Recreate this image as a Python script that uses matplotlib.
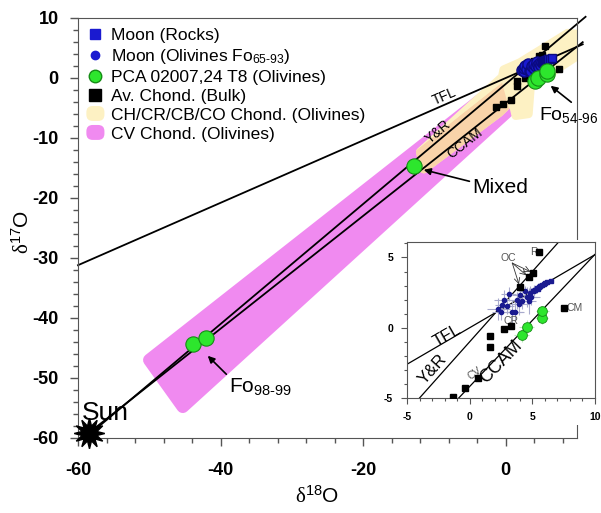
import matplotlib
matplotlib.use("Agg")
import numpy as np
import matplotlib.pyplot as plt
from matplotlib.lines import Line2D
from matplotlib.patches import Polygon, Rectangle, Patch, FancyBboxPatch
from matplotlib.legend_handler import HandlerPatch
from matplotlib.ticker import MultipleLocator

plt.rcParams['font.family'] = ['Liberation Sans', 'DejaVu Sans']
plt.rcParams['mathtext.fontset'] = 'custom'
plt.rcParams['mathtext.rm'] = 'Liberation Sans'
plt.rcParams['mathtext.sf'] = 'Liberation Serif'
plt.rcParams['mathtext.default'] = 'regular'
plt.rcParams['axes.unicode_minus'] = False

# --- data ---------------------------------------------------------------
# reference lines: d17O = slope * d18O + intercept
line_names = ['TFL', 'Y&R', 'CCAM']
line_slopes = [0.52, 1.0, 0.94]
line_icepts = [0.0, -1.0, -4.18]
line_xstart = [-60.0, -58.4, -58.4]
line_xend = [10.8, 11.2, 10.8]

# Moon rocks (bulk)
moon_rock_x = [5.05, 5.2, 5.35, 5.45, 5.5, 5.6, 5.65, 5.75, 5.9, 6.0, 6.2, 6.45]
moon_rock_y = [2.6, 2.7, 2.85, 2.75, 2.9, 3.0, 2.95, 3.05, 3.1, 3.15, 3.25, 3.35]

# Moon olivines Fo65-93
moon_ol_x = [2.3, 2.5, 2.6, 2.75, 3.0, 3.1, 3.35, 3.6, 3.75, 3.9, 4.0, 4.2, 4.4, 4.55, 4.7, 4.85, 4.9, 5.1]
moon_ol_y = [1.33, 1.15, 1.6, 1.98, 1.55, 2.4, 1.1, 1.15, 1.95, 1.7, 2.3, 1.93, 2.6, 2.17, 1.9, 2.45, 2.2, 2.65]
moon_ol_xerr = [0.9, 0.7, 0.6, 0.8, 0.5, 0.6, 0.9, 0.7, 0.5, 0.8, 0.6, 0.7, 0.5, 0.8, 0.6, 0.5, 0.7, 0.4]
moon_ol_yerr = [0.8, 0.6, 0.5, 0.7, 0.6, 0.5, 0.9, 0.7, 0.6, 0.8, 0.5, 0.6, 0.4, 0.7, 0.9, 0.5, 0.6, 0.4]

# PCA 02007,24 T8 olivines
pca_x = [4.15, 4.55, 5.75, 5.8, -12.8, -43.9, -42.0]
pca_y = [-0.5, 0.07, 0.67, 1.17, -14.6, -44.3, -43.3]
pca_xerr = [0.6, 0.6, 0.5, 0.5, 0, 0, 0]
pca_yerr = [0.5, 0.5, 0.4, 0.4, 0, 0, 0]

# average chondrites (bulk)
chond_x = [5.55, 5.05, 4.7, 4.0, 2.7, 3.3, 1.6, 1.6, 7.5, 0.7, -0.4, -1.3]
chond_y = [5.36, 3.9, 3.6, 2.9, -0.07, 0.14, -0.57, -1.4, 1.43, -3.6, -4.3, -4.9]

# olivine fields
cv_band_x = [-50.0, -0.5, 0.5, -45.3]
cv_band_y = [-47.0, -0.8, -5.3, -54.8]
ch_band_x = [-12.0, -0.5, -0.3, 2.0, 8.7, 10.5, 10.5, 3.5, 3.2, 1.4, 0.9, -0.9, -11.5]
ch_band_y = [-12.3, 0.2, 1.4, 2.6, 7.5, 7.3, 4.0, -1.4, -6.0, -6.3, -3.7, -5.8, -15.2]

sun_x, sun_y = -58.4, -59.2

PINK = '#f08af0'
YELLOW = '#fdf1c3'
PEACH = '#f9d3a9'
BLUE = '#1a1ad0'
GREEN = '#2de62d'
GREEN_EDGE = '#158c15'
AXCOL = '#555555'


class PillHandler(HandlerPatch):
    def create_artists(self, legend, orig_handle, xdescent, ydescent,
                       width, height, fontsize, trans):
        p = FancyBboxPatch((-xdescent + 1, -ydescent - 1), width - 2, height + 2,
                           boxstyle='round,pad=0,rounding_size=4.5',
                           fc=orig_handle.get_facecolor(), ec='none',
                           transform=trans)
        return [p]


fig = plt.figure(figsize=(6.01, 5.13), dpi=100)
ax = fig.add_axes([78 / 601, 1 - 438 / 513, 499 / 601, 420 / 513])
ax.set_xlim(-60, 10)
ax.set_ylim(-60, 10)

# fields
cv = Polygon(np.column_stack([cv_band_x, cv_band_y]), closed=True, fc=PINK,
             ec=PINK, lw=9, joinstyle='round', zorder=1)
ax.add_patch(cv)
ch = Polygon(np.column_stack([ch_band_x, ch_band_y]), closed=True, fc=YELLOW,
             ec=YELLOW, lw=6, joinstyle='round', zorder=1.1)
ax.add_patch(ch)
ch2 = Polygon(np.column_stack([ch_band_x, ch_band_y]), closed=True, fc=PEACH,
              ec=PEACH, lw=6, joinstyle='round', zorder=1.2)
ax.add_patch(ch2)
ch2.set_clip_path(cv)

# reference lines
for s, b, x0, x1 in zip(line_slopes, line_icepts, line_xstart, line_xend):
    xs = np.array([x0, x1])
    ax.plot(xs, s * xs + b, color='black', lw=1.3, zorder=2, clip_on=False)

ax.text(-8.6, -3.1, 'TFL', rotation=23.5, fontsize=10, ha='center', va='center')
ax.text(-9.5, -8.95, 'Y&R', rotation=40, fontsize=10, ha='center', va='center')
ax.text(-5.7, -10.9, 'CCAM', rotation=38, fontsize=10, ha='center', va='center')

# points
ax.plot(chond_x, chond_y, 's', color='black', ms=5, zorder=3)
ax.plot(moon_ol_x, moon_ol_y, 'o', color=BLUE, mec='#0a0a80', ms=8, zorder=4)
ax.plot(moon_rock_x, moon_rock_y, 's', color=BLUE, mec='#0a0a80', ms=6, zorder=4)
ax.plot(pca_x, pca_y, 'o', color=GREEN, mec=GREEN_EDGE, mew=0.8, ms=11, zorder=5)

ax.plot(sun_x, sun_y, marker=(12, 1, 0), color='black', ms=22, clip_on=False, zorder=6)
ax.text(-59.4, -57.0, 'Sun', fontsize=19, ha='left', va='baseline')

arrow = dict(arrowstyle='-|>', color='black', lw=1.2, mutation_scale=10)
ax.annotate('Mixed', xy=(-11.5, -15.3), xytext=(-4.7, -19.2), fontsize=15,
            va='baseline', arrowprops=dict(arrow, shrinkA=0, shrinkB=0,
                                           relpos=(0, 0.8)))
ax.annotate('Fo$_{\\text{54-96}}$', xy=(6.3, -1.3), xytext=(4.7, -7.0), fontsize=14,
            va='baseline', arrowprops=dict(arrow, shrinkA=0, shrinkB=0,
                                           relpos=(0.6, 1.0)))
ax.annotate('Fo$_{\\text{98-99}}$', xy=(-41.8, -46.3), xytext=(-38.8, -52.5), fontsize=15,
            va='baseline', arrowprops=dict(arrow, shrinkA=0, shrinkB=0,
                                           relpos=(0.0, 1.0)))

# axes styling
ax.xaxis.set_major_locator(MultipleLocator(20))
ax.xaxis.set_minor_locator(MultipleLocator(4))
ax.yaxis.set_major_locator(MultipleLocator(10))
ax.yaxis.set_minor_locator(MultipleLocator(2))
ax.set_xticks([-60, -40, -20, 0])
ax.tick_params(which='both', direction='out', color=AXCOL, width=1)
ax.tick_params(which='major', length=6, labelsize=13, pad=8)
ax.tick_params(axis='x', which='major', pad=11)
ax.tick_params(which='minor', length=3.5)
for lab in ax.get_xticklabels() + ax.get_yticklabels():
    lab.set_fontweight('bold')
for sp in ax.spines.values():
    sp.set_color(AXCOL)
ax.set_xlabel('$\\mathsf{δ}^{\\text{18}}$O', fontsize=15)
ax.set_ylabel('$\\mathsf{δ}^{\\text{17}}$O', fontsize=15)
ax.xaxis.set_label_coords(0.48, -0.112)
ax.yaxis.set_label_coords(-0.09, 0.49)

# legend
handles = [
    Line2D([], [], marker='s', ls='none', color=BLUE, ms=7),
    Line2D([], [], marker='o', ls='none', color=BLUE, ms=6),
    Line2D([], [], marker='o', ls='none', color=GREEN, mec=GREEN_EDGE, ms=9),
    Line2D([], [], marker='s', ls='none', color='black', ms=8),
    Patch(fc=YELLOW),
    Patch(fc=PINK),
]
labels = ['Moon (Rocks)', 'Moon (Olivines Fo$_{\\text{65-93}}$)',
          'PCA 02007,24 T8 (Olivines)', 'Av. Chond. (Bulk)',
          'CH/CR/CB/CO Chond. (Olivines)', 'CV Chond. (Olivines)']
ax.legend(handles, labels, loc='upper left', bbox_to_anchor=(0.014, 0.977),
          frameon=False, fontsize=12.5, handlelength=1.2, handletextpad=0.3,
          labelspacing=0.22, borderpad=0, borderaxespad=0,
          handler_map={Patch: PillHandler()})

# white area under the inset
fig.patches.append(Rectangle((395 / 601, 1 - 425 / 513), 206 / 601, 185 / 513,
                             transform=fig.transFigure, fc='white', ec='none',
                             zorder=1))

# --- inset --------------------------------------------------------------
ins = fig.add_axes([407 / 601, 1 - 398 / 513, 188 / 601, 156 / 513], zorder=2)
ins.set_xlim(-5, 10)
ins.set_ylim(-5, 6.1)
for s, b in zip(line_slopes, line_icepts):
    xs = np.array([-6, 11])
    ins.plot(xs, s * xs + b, color='black', lw=0.9, zorder=2)
ins.errorbar(moon_ol_x, moon_ol_y, xerr=moon_ol_xerr, yerr=moon_ol_yerr, fmt='o',
             color='#1a1a90', ms=3, ecolor='#a8aacc', elinewidth=0.8, zorder=3)
ins.plot(moon_rock_x, moon_rock_y, 's', color='#1a1a90', ms=3.2, zorder=4)
ins.plot(chond_x, chond_y, 's', color='black', ms=4.2, zorder=4)
ins.errorbar(pca_x[:4], pca_y[:4], xerr=pca_xerr[:4], yerr=pca_yerr[:4], fmt='o',
             color=GREEN, mec=GREEN_EDGE, mew=0.6, ms=7, ecolor='#b8e8b8',
             elinewidth=0.8, zorder=5)

ins.text(-1.8, -0.57, 'TFL', rotation=30, fontsize=12, ha='center', va='center')
ins.text(-2.93, -2.95, 'Y&R', rotation=48, fontsize=12, ha='center', va='center')
ins.text(2.5, -2.4, 'CCAM', rotation=46, fontsize=13, ha='center', va='center')
small = dict(fontsize=7.5, color='#555555', ha='center', va='center')
ins.text(0.37, -3.26, 'CV', rotation=35, **small)
ins.text(3.3, 0.5, 'CR', **small)
ins.text(7.75, 1.43, 'CM', fontsize=7.5, color='#555555', ha='left', va='center')
ins.text(5.1, 5.4, 'R', **small)
for px, py in zip(chond_x[1:4], chond_y[1:4]):
    ins.annotate('', xy=(px, py), xytext=(3.4, 4.6),
                 arrowprops=dict(arrowstyle='->', color='#333333', lw=0.6,
                                 shrinkA=0, shrinkB=2))
ins.text(3.1, 4.95, 'OC', **small)

ins.set_xticks([-5, 0, 5, 10])
ins.set_yticks([-5, 0, 5])
ins.xaxis.set_minor_locator(MultipleLocator(1))
ins.yaxis.set_minor_locator(MultipleLocator(1))
ins.tick_params(which='both', direction='out', color=AXCOL, width=0.8, labelsize=7.5, pad=6)
ins.tick_params(which='major', length=4)
ins.tick_params(which='minor', length=2.5)
for lab in ins.get_xticklabels() + ins.get_yticklabels():
    lab.set_fontweight('bold')
for sp in ins.spines.values():
    sp.set_color(AXCOL)
    sp.set_linewidth(0.8)

fig.savefig('out.png', dpi=100)
